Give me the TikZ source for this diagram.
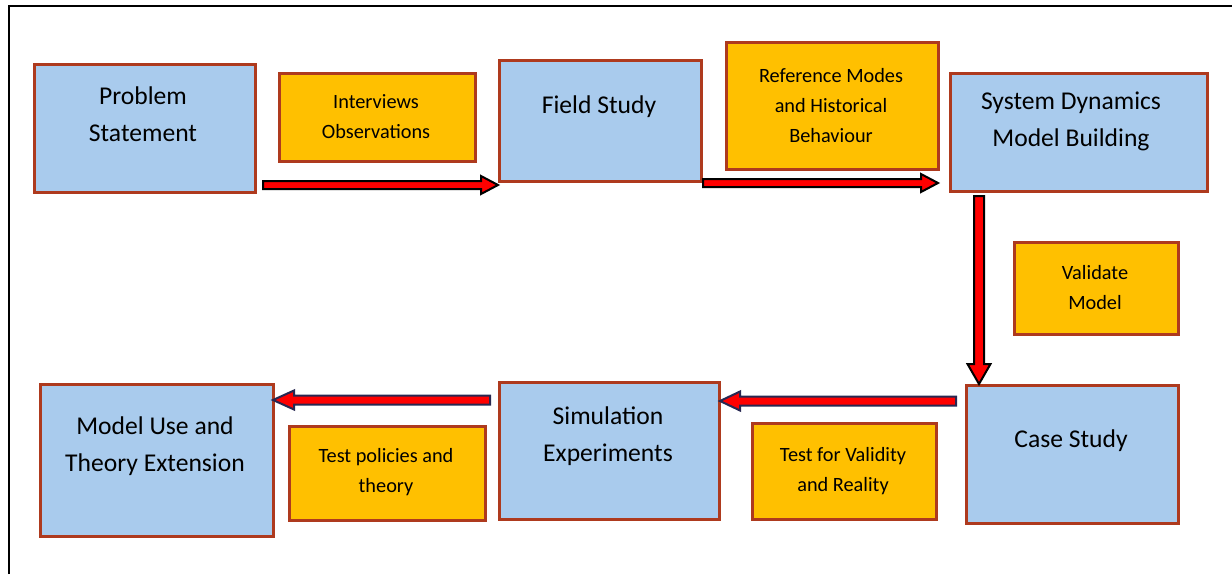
\documentclass[tikz,border=0pt]{standalone}
\usepackage{fontspec}
\setmainfont{Carlito}
\usetikzlibrary{calc}

\definecolor{boxblue}{RGB}{169,203,237}
\definecolor{boxorange}{RGB}{255,192,0}
\definecolor{boxedge}{RGB}{174,58,30}
\definecolor{arrowred}{RGB}{255,0,0}
\definecolor{navyedge}{RGB}{40,40,82}

\tikzset{
  stage/.style={draw=boxedge, line width=2.6pt, fill=boxblue, inner sep=0pt, anchor=north west},
  note/.style={draw=boxedge, line width=2.6pt, fill=boxorange, inner sep=0pt, anchor=north west},
  bigtext/.style={font=\fontsize{25.6}{37}\selectfont, align=center, inner sep=0pt, yshift=-1.8pt},
  smalltext/.style={font=\fontsize{20.3}{30}\selectfont, align=center, inner sep=0pt, yshift=-1.2pt},
  toparrow/.style={fill=arrowred, draw=black, line width=2pt, line join=miter},
  lowarrow/.style={fill=arrowred, draw=navyedge, line width=2pt, line join=miter},
  frameline/.style={draw=black, line width=2.4pt},
}

% block arrow: style, from, to, half shaft width, half head width, head length
\newcommand\bigarrow[6]{%
  \coordinate (hb) at ($(#3)!#6!(#2)$);
  \draw[#1] ($(#2)!#4!90:(#3)$) -- ($(hb)!#4!90:(#3)$) -- ($(hb)!#5!90:(#3)$)
    -- (#3) -- ($(hb)!#5!-90:(#3)$) -- ($(hb)!#4!-90:(#3)$)
    -- ($(#2)!#4!-90:(#3)$) -- cycle;}

\begin{document}
\begin{tikzpicture}[x=1pt, y=-1pt]
  \useasboundingbox (0,0) rectangle (1232,574);

  % open frame: left and top rules
  \coordinate (fbl) at (9,574);
  \coordinate (ftl) at (9,6);
  \coordinate (ftr) at (1232,6);
  \draw[frameline] (fbl) -- (ftl) -- (ftr);

  % process stages
  \node[stage, minimum width=221pt, minimum height=128pt] (ps) at (33,63) {};
  \node[stage, minimum width=202pt, minimum height=121pt] (fs) at (498,59) {};
  \node[stage, minimum width=257pt, minimum height=118pt] (sd) at (949,72) {};
  \node[stage, minimum width=212pt, minimum height=138pt] (cs) at (965,384) {};
  \node[stage, minimum width=220pt, minimum height=137pt] (se) at (498,381) {};
  \node[stage, minimum width=233pt, minimum height=152pt] (mu) at (39,383) {};

  % activity notes
  \node[note, minimum width=196pt, minimum height=88pt] (iv) at (278,72) {};
  \node[note, minimum width=212pt, minimum height=127pt] (rm) at (725,41) {};
  \node[note, minimum width=164pt, minimum height=92pt] (vm) at (1013,241) {};
  \node[note, minimum width=184pt, minimum height=96pt] (tv) at (751,422) {};
  \node[note, minimum width=196pt, minimum height=94pt] (tp) at (288,425) {};

  % stage labels
  \node[bigtext] (ps-t) at (143,112.5) {Problem\\Statement};
  \node[bigtext] (fs-t) at (599,105) {Field Study};
  \node[bigtext] (sd-t) at (1071,119.5) {System Dynamics\\Model Building};
  \node[bigtext] (cs-t) at (1071,439) {Case Study};
  \node[bigtext] (se-t) at (608,434.5) {Simulation\\Experiments};
  \node[bigtext] (mu-t) at (155,444.5) {Model Use and\\Theory Extension};

  % note labels
  \node[smalltext] (iv-t) at (376,115) {Interviews\\Observations};
  \node[smalltext] (rm-t) at (831,104) {Reference Modes\\and Historical\\Behaviour};
  \node[smalltext] (vm-t) at (1095,286) {Validate\\Model};
  \node[smalltext] (tv-t) at (843,470) {Test for Validity\\and Reality};
  \node[smalltext] (tp-t) at (386,470.5) {Test policies and\\theory};

  % arrow end points
  \coordinate (a1s) at (263,185);
  \coordinate (a1e) at (498,185);
  \coordinate (a2s) at (703,183);
  \coordinate (a2e) at (938,183);
  \coordinate (a3s) at (979,196);
  \coordinate (a3e) at (979,384);
  \coordinate (a4s) at (956,401);
  \coordinate (a4e) at (720,401);
  \coordinate (a5s) at (490,400);
  \coordinate (a5e) at (273,400);

  % flow arrows
  \bigarrow{toparrow}{a1s}{a1e}{4pt}{9pt}{17pt}
  \bigarrow{toparrow}{a2s}{a2e}{4pt}{9pt}{17pt}
  \bigarrow{toparrow}{a3s}{a3e}{5pt}{11.5pt}{20pt}
  \bigarrow{lowarrow}{a4s}{a4e}{4.5pt}{9.5pt}{20pt}
  \bigarrow{lowarrow}{a5s}{a5e}{4.5pt}{9.5pt}{21pt}
\end{tikzpicture}
\end{document}
